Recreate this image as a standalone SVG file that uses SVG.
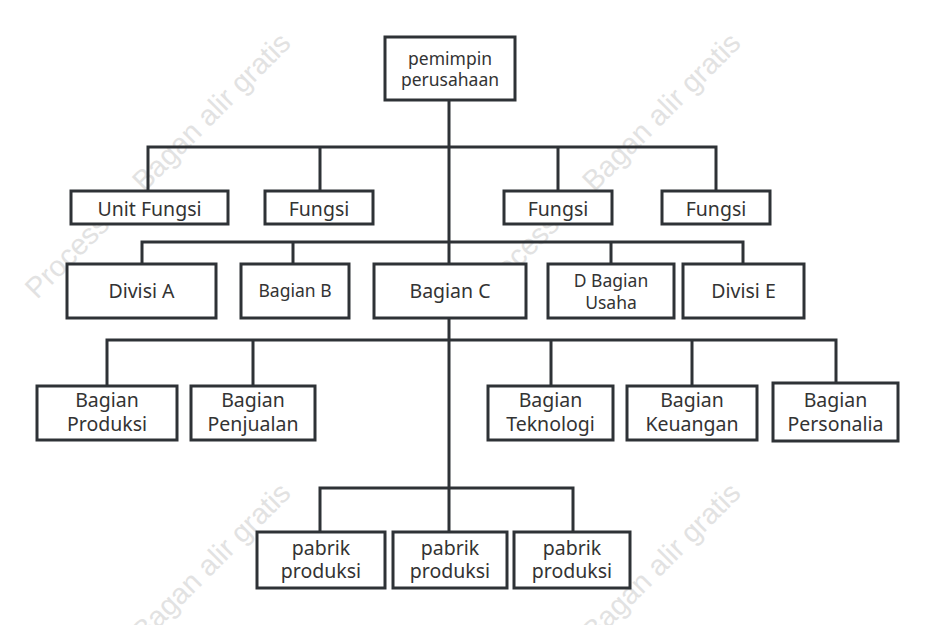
<svg xmlns="http://www.w3.org/2000/svg" width="936" height="625" viewBox="0 0 936 625">
<style>
.wm{font-family:"Liberation Sans",Arial,sans-serif;font-size:29px;fill:#e2e2e2}
.box{fill:#fff;stroke:#2e3236;stroke-width:3}
.t{font-family:"Noto Sans","Open Sans",sans-serif;font-size:19.5px;fill:#333;text-anchor:middle}
.s{font-size:17.5px}
.c{fill:none;stroke:#2e3236;stroke-width:3}
</style>
<rect width="936" height="625" fill="#fff"/>
<g id="watermark">
<text class="wm" transform="translate(37,300) rotate(-45)">ProcessOn Bagan alir gratis</text>
<text class="wm" transform="translate(487,300) rotate(-45)">ProcessOn Bagan alir gratis</text>
<text class="wm" transform="translate(37,750) rotate(-45)">ProcessOn Bagan alir gratis</text>
<text class="wm" transform="translate(487,750) rotate(-45)">ProcessOn Bagan alir gratis</text>
</g>
<g id="connectors">
<path class="c" d="M449 100V264M449 318V532"/>
<path class="c" d="M148 191V147H716V191M320 147V191M558 147V191"/>
<path class="c" d="M142 264V242H743V264M293 242V264M611 242V264"/>
<path class="c" d="M107 386V340H836V383M253 340V386M551 340V386M692 340V386"/>
<path class="c" d="M320 532V488H573V532"/>
</g>
<g id="n-top"><rect class="box" x="385" y="37" width="130" height="63"/><text class="t s" x="450" y="65">pemimpin</text><text class="t s" x="450" y="86">perusahaan</text></g>
<g id="n-unitfungsi"><rect class="box" x="71" y="191" width="157" height="33"/><text class="t" x="149.5" y="216">Unit Fungsi</text></g>
<g id="n-fungsi1"><rect class="box" x="265" y="191" width="108" height="33"/><text class="t" x="319" y="216">Fungsi</text></g>
<g id="n-fungsi2"><rect class="box" x="504" y="191" width="108" height="33"/><text class="t" x="558" y="216">Fungsi</text></g>
<g id="n-fungsi3"><rect class="box" x="662" y="191" width="108" height="33"/><text class="t" x="716" y="216">Fungsi</text></g>
<g id="n-divisia"><rect class="box" x="67" y="264" width="149" height="54"/><text class="t" x="141.5" y="298">Divisi A</text></g>
<g id="n-bagianb"><rect class="box" x="241" y="264" width="108" height="54"/><text class="t s" x="295" y="297">Bagian B</text></g>
<g id="n-bagianc"><rect class="box" x="374" y="264" width="152" height="54"/><text class="t" x="450" y="298">Bagian C</text></g>
<g id="n-usaha"><rect class="box" x="548" y="264" width="126" height="54"/><text class="t s" x="611" y="287">D Bagian</text><text class="t s" x="611" y="309">Usaha</text></g>
<g id="n-divisie"><rect class="box" x="683" y="264" width="121" height="54"/><text class="t" x="743.5" y="298">Divisi E</text></g>
<g id="n-produksi"><rect class="box" x="37" y="386" width="140" height="54"/><text class="t" x="107" y="407">Bagian</text><text class="t" x="107" y="431">Produksi</text></g>
<g id="n-penjualan"><rect class="box" x="191" y="386" width="124" height="54"/><text class="t" x="253" y="407">Bagian</text><text class="t" x="253" y="431">Penjualan</text></g>
<g id="n-teknologi"><rect class="box" x="488" y="386" width="125" height="54"/><text class="t" x="550.5" y="407">Bagian</text><text class="t" x="550.5" y="431">Teknologi</text></g>
<g id="n-keuangan"><rect class="box" x="627" y="386" width="130" height="54"/><text class="t" x="692" y="407">Bagian</text><text class="t" x="692" y="431">Keuangan</text></g>
<g id="n-personalia"><rect class="box" x="773" y="383" width="125" height="58"/><text class="t" x="835.5" y="407">Bagian</text><text class="t" x="835.5" y="431">Personalia</text></g>
<g id="n-pabrik1"><rect class="box" x="257" y="532" width="128" height="56"/><text class="t" x="321" y="555">pabrik</text><text class="t" x="321" y="578">produksi</text></g>
<g id="n-pabrik2"><rect class="box" x="393" y="532" width="114" height="56"/><text class="t" x="450" y="555">pabrik</text><text class="t" x="450" y="578">produksi</text></g>
<g id="n-pabrik3"><rect class="box" x="514" y="532" width="116" height="56"/><text class="t" x="572" y="555">pabrik</text><text class="t" x="572" y="578">produksi</text></g>
</svg>
